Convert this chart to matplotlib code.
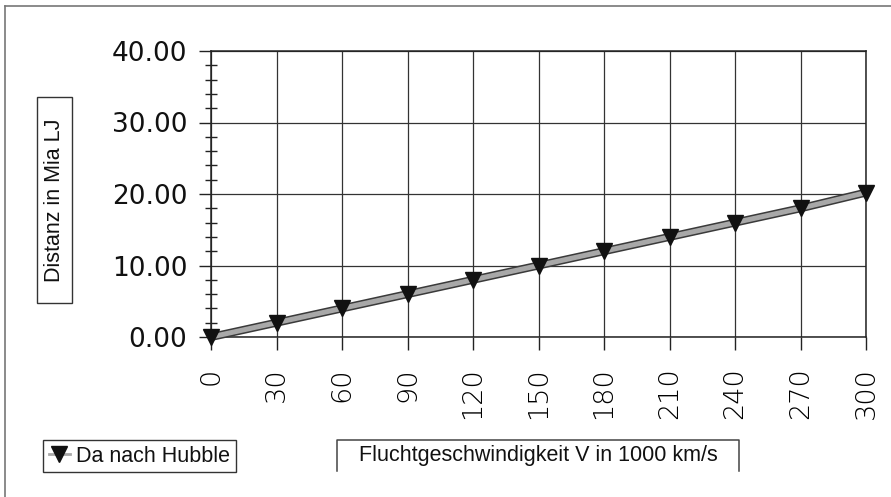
import matplotlib
matplotlib.use("Agg")
import matplotlib.pyplot as plt
import matplotlib.patheffects as pe
from matplotlib.patches import Rectangle
from matplotlib.lines import Line2D
from matplotlib.ticker import MultipleLocator

# ================= Data ================= #
velocity = [0, 30, 60, 90, 120, 150, 180, 210, 240, 270, 300]
distance = [0.0, 2.0, 4.0, 6.0, 8.0, 10.0, 12.0, 14.0, 16.0, 18.0, 20.2]
xticks = [0, 30, 60, 90, 120, 150, 180, 210, 240, 270, 300]
yticks = [0, 10, 20, 30, 40]
yticklabels = ["0.00", "10.00", "20.00", "30.00", "40.00"]
seriesName = "Da nach Hubble"
xlabelText = "Fluchtgeschwindigkeit V in 1000 km/s"
ylabelText = "Distanz in Mia LJ"

W, H = 891, 497
fig = plt.figure(figsize=(W / 100, H / 100), dpi=100)
ax = fig.add_axes([211 / W, 1 - 337 / H, (866 - 211) / W, (337 - 51) / H])

# line with hatched look
ax.plot(velocity, distance, color="#a8a8a8", lw=3.6, solid_capstyle="butt",
        path_effects=[pe.Stroke(linewidth=5.8, foreground="#3a3a3a"), pe.Normal()],
        zorder=3, clip_on=False)
ax.plot(velocity, distance, ls="none", marker="v", ms=12, color="#111111",
        zorder=4, clip_on=False)

ax.set_xlim(0, 300)
ax.set_ylim(0, 40)
ax.set_xticks(xticks)
ax.set_xticklabels([str(v) for v in xticks], rotation=90, va="top",
                   fontsize=19.5, fontweight="light", family="DejaVu Sans")
ax.set_yticks(yticks)
ax.set_yticklabels(yticklabels, fontsize=19, family="DejaVu Sans", color="#111")
ax.yaxis.set_minor_locator(MultipleLocator(2))
ax.tick_params(axis="x", direction="out", length=9, width=1, pad=13, color="#222")
ax.tick_params(axis="y", which="major", direction="out", length=9, width=1, pad=8,
               color="#222")
ax.tick_params(axis="y", which="minor", direction="inout", length=9, width=1,
               color="#222")
ax.grid(True, which="major", color="#333333", lw=0.9)
for s in ax.spines.values():
    s.set_color("#222222")
    s.set_linewidth(1.1)

# outer frame
fig.add_artist(Line2D([5 / W, 5 / W], [0, 1 - 6 / H], color="#777777", lw=1.2))
fig.add_artist(Line2D([5 / W, 1], [1 - 6 / H, 1 - 6 / H], color="#777777", lw=1.2))

# y label box
fig.add_artist(Rectangle((37 / W, 1 - 303 / H), 35 / W, 206 / H, fill=False,
                         edgecolor="#333333", lw=1.0))
fig.text(55 / W, 1 - 200 / H, ylabelText, rotation=90, ha="center", va="center",
         fontsize=15.5, family=["Liberation Sans Narrow", "Liberation Sans"],
         color="#111111")

# x label box (bottom edge not drawn)
xl, xr, yt, yb = 337 / W, 739 / W, 1 - 440 / H, 1 - 471 / H
fig.add_artist(Line2D([xl, xl, xr, xr], [yb, yt, yt, yb], color="#444444", lw=1.1))
fig.text((xl + xr) / 2, 1 - 456 / H, xlabelText, ha="center", va="center",
         fontsize=15.5, family="Liberation Sans", color="#111111")

# legend
handle = Line2D([], [], color="#a8a8a8", lw=2, marker="v", ms=12,
                markerfacecolor="#111111", markeredgecolor="#111111")
leg = fig.legend([handle], [seriesName], loc="center",
                 bbox_to_anchor=(139.5 / W, 1 - 456 / H), fancybox=False,
                 framealpha=1, edgecolor="#333333", handlelength=1.0,
                 handletextpad=0.3, borderpad=0.25,
                 prop={"family": "Liberation Sans", "size": 15.5})
for t in leg.get_texts():
    t.set_color("#111111")
leg.get_frame().set_linewidth(1.0)

fig.savefig("out.png", dpi=100)
